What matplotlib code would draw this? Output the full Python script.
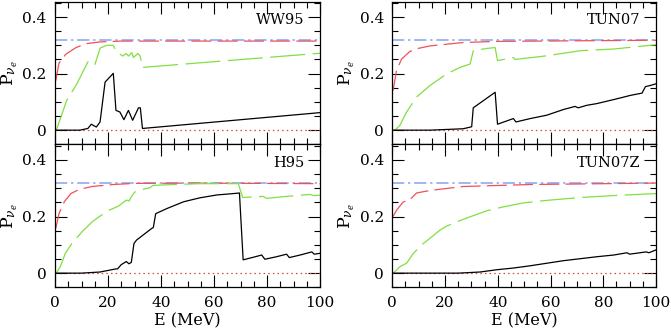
import matplotlib
matplotlib.use("Agg")
import matplotlib.pyplot as plt
from matplotlib.ticker import MultipleLocator, FuncFormatter

plt.rcParams["font.family"] = "DejaVu Serif"
plt.rcParams["mathtext.fontset"] = "dejavuserif"

# ---------------------------------------------------------------- data
# flat reference curves, same in every panel
BLUE_LEVEL = 0.32
DOT_LEVEL = 0.0

# WW95
ww_black_E = [0, 9.4, 12.4, 13.7, 15.6, 17.0, 18.9, 22.0, 23.0, 24.5, 26.0, 27.7,
              29.3, 31.5, 32.2, 33.0, 100]
ww_black_P = [0, 0, 0.006, 0.021, 0.011, 0.029, 0.170, 0.201, 0.070, 0.064, 0.037,
              0.070, 0.035, 0.079, 0.079, 0.006, 0.062]
ww_green_E = [0, 0.5, 4.4, 8.2, 12.6, 15.1, 17.0, 19.5, 22.0, 23.0, 25.5, 26.8, 27.7,
              29.0, 29.6, 31.2, 32.1, 33.0, 100]
ww_green_P = [0, 0, 0.105, 0.163, 0.245, 0.233, 0.290, 0.300, 0.300, 0.280, 0.262,
              0.271, 0.262, 0.274, 0.257, 0.271, 0.263, 0.222, 0.272]
ww_red_E = [0.3, 1.5, 4.0, 7.9, 11.7, 17.0, 25.0, 40, 60, 100]
ww_red_P = [0.175, 0.237, 0.268, 0.292, 0.306, 0.312, 0.315, 0.315, 0.315, 0.315]

# H95
h_black_E = [0, 10, 17.0, 23.0, 23.6, 25.0, 26.9, 27.9, 28.8, 29.8, 30.8, 36.5, 37.1,
             38.0, 42.2, 48.5, 54.7, 61.0, 67.3, 69.6, 71.0, 74.8, 78.0, 79.2, 83.6,
             87.4, 88.4, 92.5, 96.9, 97.8, 100]
h_black_P = [0, 0, 0.004, 0.015, 0.015, 0.030, 0.041, 0.033, 0.038, 0.105, 0.117,
             0.158, 0.161, 0.210, 0.228, 0.252, 0.266, 0.276, 0.281, 0.283, 0.047,
             0.056, 0.064, 0.049, 0.058, 0.067, 0.055, 0.064, 0.075, 0.067, 0.070]
h_green_E = [0, 0.5, 2.0, 3.9, 6.4, 10.2, 14.0, 16.6, 20.4, 24.0, 26.9, 28.0, 28.8,
             30.0, 33.3, 35.9, 37.0, 42.2, 54.7, 69.2, 70.8, 74.8, 78.6, 79.8, 85.0,
             96.2, 97.5, 100]
h_green_P = [0, 0, 0.023, 0.070, 0.105, 0.146, 0.181, 0.199, 0.222, 0.237, 0.258,
             0.255, 0.270, 0.286, 0.296, 0.302, 0.310, 0.312, 0.316, 0.316, 0.267,
             0.269, 0.271, 0.264, 0.269, 0.278, 0.274, 0.275]
h_red_E = [0.3, 1.5, 3.5, 6.0, 9.2, 14.0, 22.0, 30, 50, 100]
h_red_P = [0.158, 0.210, 0.252, 0.281, 0.296, 0.306, 0.313, 0.317, 0.318, 0.316]

# TUN07
t_black_E = [0, 14.3, 26.9, 30.1, 30.7, 39.0, 39.9, 45.9, 46.9, 52.3, 58.6, 64.9,
             69.3, 70.5, 73.8, 77.6, 85.2, 90.3, 94.7, 96.0, 97.8, 100]
t_black_P = [0, 0, 0.005, 0.012, 0.079, 0.134, 0.021, 0.041, 0.029, 0.041, 0.053,
             0.073, 0.084, 0.079, 0.088, 0.094, 0.111, 0.123, 0.131, 0.154, 0.158,
             0.164]
t_green_E = [0, 1.0, 2.9, 5.4, 9.2, 14.3, 20.6, 25.7, 29.5, 30.7, 35.8, 39.0, 39.9,
             45.9, 46.5, 58.6, 71.3, 84.0, 100]
t_green_P = [0, 0, 0.017, 0.064, 0.117, 0.158, 0.199, 0.222, 0.234, 0.281, 0.289,
             0.292, 0.246, 0.257, 0.250, 0.263, 0.281, 0.287, 0.302]
t_red_E = [0.3, 1.6, 3.5, 6.6, 9.8, 14.3, 26.9, 40, 70, 100]
t_red_P = [0.140, 0.211, 0.251, 0.278, 0.289, 0.298, 0.310, 0.314, 0.316, 0.318]

# TUN07Z
z_black_E = [0, 25, 33.3, 39.6, 45.9, 52.3, 58.6, 64.9, 71.3, 77.6, 84.0, 89.0, 90.0,
             96.3, 97.3, 100]
z_black_P = [0, 0, 0.004, 0.012, 0.018, 0.026, 0.035, 0.044, 0.051, 0.058, 0.064,
             0.072, 0.067, 0.075, 0.072, 0.082]
z_green_E = [0, 0.4, 2.9, 5.4, 8.0, 11.8, 14.3, 18.1, 20.6, 24.4, 29.5, 35.8, 42.1,
             49.7, 58.6, 71.3, 84.0, 100]
z_green_P = [0, 0, 0.023, 0.035, 0.070, 0.105, 0.123, 0.152, 0.166, 0.181, 0.199,
             0.220, 0.234, 0.248, 0.257, 0.267, 0.274, 0.281]
z_red_E = [0.3, 1.6, 4.1, 6.6, 9.2, 14.3, 26.9, 52.3, 100]
z_red_P = [0.200, 0.222, 0.251, 0.259, 0.283, 0.292, 0.306, 0.313, 0.318]

panels = [
    ("WW95", ww_black_E, ww_black_P, ww_green_E, ww_green_P, ww_red_E, ww_red_P),
    ("TUN07", t_black_E, t_black_P, t_green_E, t_green_P, t_red_E, t_red_P),
    ("H95", h_black_E, h_black_P, h_green_E, h_green_P, h_red_E, h_red_P),
    ("TUN07Z", z_black_E, z_black_P, z_green_E, z_green_P, z_red_E, z_red_P),
]

# ---------------------------------------------------------------- layout
W, H = 671, 332
fig = plt.figure(figsize=(W / 100, H / 100), dpi=100)

# pixel edges of the panels
cols = [(55, 320), (392.3, 656)]
rows = [(1.5, 144.3), (144.3, 287.3)]

BLUE = "#86a2f0"
RED = "#f0505a"
GREEN = "#80e040"
DOTRED = "#d04848"

yfmt = FuncFormatter(lambda v, p: "0" if abs(v) < 1e-9 else f"{v:.1f}")

for i, (name, bE, bP, gE, gP, rE, rP) in enumerate(panels):
    r, c = divmod(i, 2)
    x0, x1 = cols[c]
    y0, y1 = rows[r]
    ax = fig.add_axes([x0 / W, 1 - y1 / H, (x1 - x0) / W, (y1 - y0) / H])

    ax.plot([0, 100], [DOT_LEVEL, DOT_LEVEL], color=DOTRED, lw=0.9,
            linestyle=(0, (1.2, 2.5)))
    ax.plot([0, 100], [BLUE_LEVEL, BLUE_LEVEL], color=BLUE, lw=1.1,
            dashes=(8, 2.5, 1.5, 2.5))
    ax.plot(rE, rP, color=RED, lw=0.9, dashes=(16, 5))
    ax.plot(gE, gP, color=GREEN, lw=0.9, dashes=(28, 6))
    ax.plot(bE, bP, color="black", lw=0.9)

    ax.set_xlim(0, 100)
    ax.set_ylim(-0.05, 0.455)
    ax.xaxis.set_major_locator(MultipleLocator(20))
    ax.xaxis.set_minor_locator(MultipleLocator(5))
    ax.yaxis.set_major_locator(MultipleLocator(0.2))
    ax.yaxis.set_minor_locator(MultipleLocator(0.05))
    ax.yaxis.set_major_formatter(yfmt)
    ax.tick_params(which="both", direction="in", top=True, right=True,
                   labelsize=11, pad=6, width=0.8)
    ax.tick_params(which="major", length=8.5)
    ax.tick_params(which="minor", length=4.5)
    for s in ax.spines.values():
        s.set_linewidth(0.9)

    if r == 0:
        ax.set_xticklabels([])
    else:
        ax.set_xlabel("E (MeV)", fontsize=11.5, labelpad=2)
    ax.set_ylabel(r"$\mathrm{P}_{\nu_e}$", fontsize=12.5, labelpad=2)

    ax.text(94, 0.39, name, fontsize=10.5, ha="right", va="center")

fig.savefig("out.png", dpi=100)
